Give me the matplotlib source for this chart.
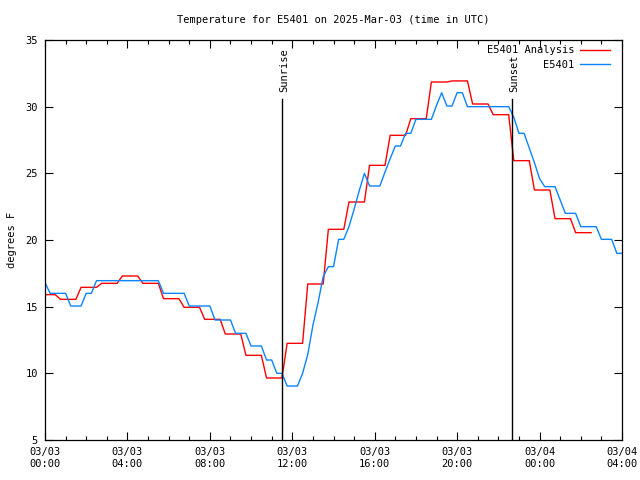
import numpy as np
from matplotlib import pyplot as plt
from matplotlib.ticker import MultipleLocator

# 15 minute steps, hours since 2025-03-03 00:00 UTC
STEP = 0.25

# E5401 Analysis (red)
analysis = [15.9, 15.9, 15.9,
            15.55, 15.55, 15.55, 15.55,
            16.45, 16.45, 16.45, 16.45,
            16.75, 16.75, 16.75, 16.75,
            17.3, 17.3, 17.3, 17.3,
            16.75, 16.75, 16.75, 16.75,
            15.6, 15.6, 15.6, 15.6,
            14.95, 14.95, 14.95, 14.95,
            14.05, 14.05, 14.05, 14.05,
            12.95, 12.95, 12.95, 12.95,
            11.35, 11.35, 11.35, 11.35,
            9.65, 9.65, 9.65, 9.65,
            12.25, 12.25, 12.25, 12.25,
            16.7, 16.7, 16.7, 16.7,
            20.8, 20.8, 20.8, 20.8,
            22.85, 22.85, 22.85, 22.85,
            25.6, 25.6, 25.6, 25.6,
            27.85, 27.85, 27.85, 27.85,
            29.1, 29.1, 29.1, 29.1,
            31.85, 31.85, 31.85, 31.85,
            31.93, 31.93, 31.93, 31.93,
            30.2, 30.2, 30.2, 30.2,
            29.4, 29.4, 29.4, 29.4,
            25.95, 25.95, 25.95, 25.95,
            23.75, 23.75, 23.75, 23.75,
            21.6, 21.6, 21.6, 21.6,
            20.55, 20.55, 20.55, 20.55]

# E5401 observations (blue)
obs = [16.8, 16.0, 16.0, 16.0,
       16.0, 15.05, 15.05, 15.05,
       16.0, 16.0, 16.95, 16.95,
       16.95, 16.95, 16.95, 16.95,
       16.95, 16.95, 16.95, 16.95,
       16.95, 16.95, 16.95, 16.0,
       16.0, 16.0, 16.0, 16.0,
       15.05, 15.05, 15.05, 15.05,
       15.05, 14.0, 14.0, 14.0,
       14.0, 13.0, 13.0, 13.0,
       12.05, 12.05, 12.05, 11.0,
       11.0, 10.0, 10.0, 9.05,
       9.05, 9.05, 10.0, 11.4,
       13.6, 15.3, 17.25, 18.0,
       18.0, 20.05, 20.05, 21.0,
       22.3, 23.7, 25.0, 24.05,
       24.05, 24.05, 25.1, 26.1,
       27.05, 27.05, 28.0, 28.0,
       29.05, 29.05, 29.05, 29.05,
       30.1, 31.05, 30.05, 30.05,
       31.05, 31.05, 30.0, 30.0,
       30.0, 30.0, 30.0, 30.0,
       30.0, 30.0, 30.0, 29.2,
       28.0, 28.0, 26.9, 25.8,
       24.6, 24.0, 24.0, 24.0,
       23.0, 22.0, 22.0, 22.0,
       21.0, 21.0, 21.0, 21.0,
       20.05, 20.05, 20.05, 19.0,
       19.0]

sunrise = 11.5
sunset = 22.67

xticks = [0, 4, 8, 12, 16, 20, 24, 28]
xlabels = ['03/03\n00:00', '03/03\n04:00', '03/03\n08:00', '03/03\n12:00',
           '03/03\n16:00', '03/03\n20:00', '03/04\n00:00', '03/04\n04:00']

plt.rcParams['font.family'] = 'DejaVu Sans Mono'
plt.rcParams['font.size'] = 7.5

fig = plt.figure(figsize=(6.4, 4.8), dpi=100)
ax = fig.add_axes([45 / 640, 40 / 480, 577 / 640, 400 / 480])

t_an = np.arange(len(analysis)) * STEP
t_obs = np.arange(len(obs)) * STEP
ax.plot(t_an, analysis, color='#ff0000', lw=1.0, label='E5401 Analysis')
ax.plot(t_obs, obs, color='#0a84ff', lw=1.0, label='E5401')

for x, name in [(sunrise, 'Sunrise'), (sunset, 'Sunset')]:
    ax.plot([x, x], [5, 30.55], color='black', lw=1.0)
    ax.text(x + 0.1, 31.1, name, rotation=90, ha='center', va='bottom')

ax.set_xlim(0, 28)
ax.set_ylim(5, 35)
ax.set_xticks(xticks)
ax.set_xticklabels(xlabels)
ax.xaxis.set_minor_locator(MultipleLocator(1))
ax.set_yticks([5, 10, 15, 20, 25, 30, 35])
ax.tick_params(which='both', direction='in', top=True, right=True, width=0.8)
ax.tick_params(which='major', length=6, pad=5)
ax.tick_params(which='minor', length=3)
for s in ax.spines.values():
    s.set_linewidth(0.9)

ax.set_ylabel('degrees F', labelpad=6)
ax.set_title('Temperature for E5401 on 2025-Mar-03 (time in UTC)', fontsize=7.5, pad=12)

ax.legend(loc='upper right', bbox_to_anchor=(0.979, 0.987), frameon=False,
          markerfirst=False, handlelength=2.9, handletextpad=0.5,
          labelspacing=0.45, borderaxespad=0.0, borderpad=0.0, fontsize=7.5)

fig.savefig('out.png', dpi=100)
